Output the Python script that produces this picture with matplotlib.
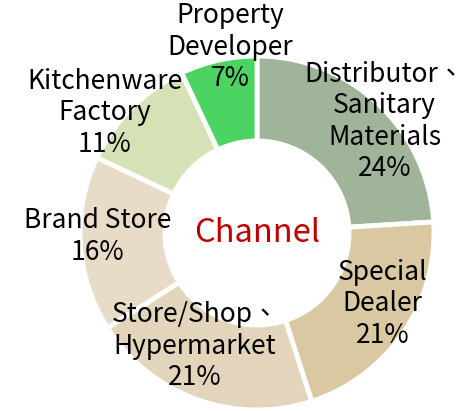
import matplotlib.pyplot as plt

plt.rcParams['font.family'] = ['Noto Sans CJK TC', 'DejaVu Sans']

channels = ['Distributor、\nSanitary\nMaterials', 'Special\nDealer', 'Store/Shop、\nHypermarket',
            'Brand Store', 'Kitchenware\nFactory', 'Property\nDeveloper']
shares = [24, 21, 21, 16, 11, 7]
colors = ['#9fb498', '#d9c8a2', '#e2d5bb', '#e8dcc8', '#d5e2b5', '#4cd463']

# label centres in axes data units (pie radius = 1)
label_pos = [(0.72, 0.63), (0.71, -0.40), (-0.35, -0.64),
             (-0.90, -0.02), (-0.86, 0.68), (-0.15, 1.05)]

fig = plt.figure(figsize=(4.69, 4.11), dpi=100)
ax = fig.add_axes([80 / 469, 1 / 411, 354 / 469, 354 / 411])

ax.pie(shares, colors=colors, startangle=90, counterclock=False, radius=1,
       wedgeprops=dict(width=0.48, edgecolor='white', linewidth=3.5))

for name, val, (x, y) in zip(channels, shares, label_pos):
    ax.text(x, y, f'{name}\n{val}%', ha='center', va='center',
            fontsize=19, linespacing=1.22, color='black', fontweight='medium')

ax.text(0, 0.0, 'Channel', ha='center', va='center', fontsize=23.5,
        color='#c00000', fontweight='medium')

ax.set_xlim(-1, 1)
ax.set_ylim(-1, 1)
ax.set_aspect('equal')
ax.axis('off')

fig.savefig('out.png', dpi=100)
